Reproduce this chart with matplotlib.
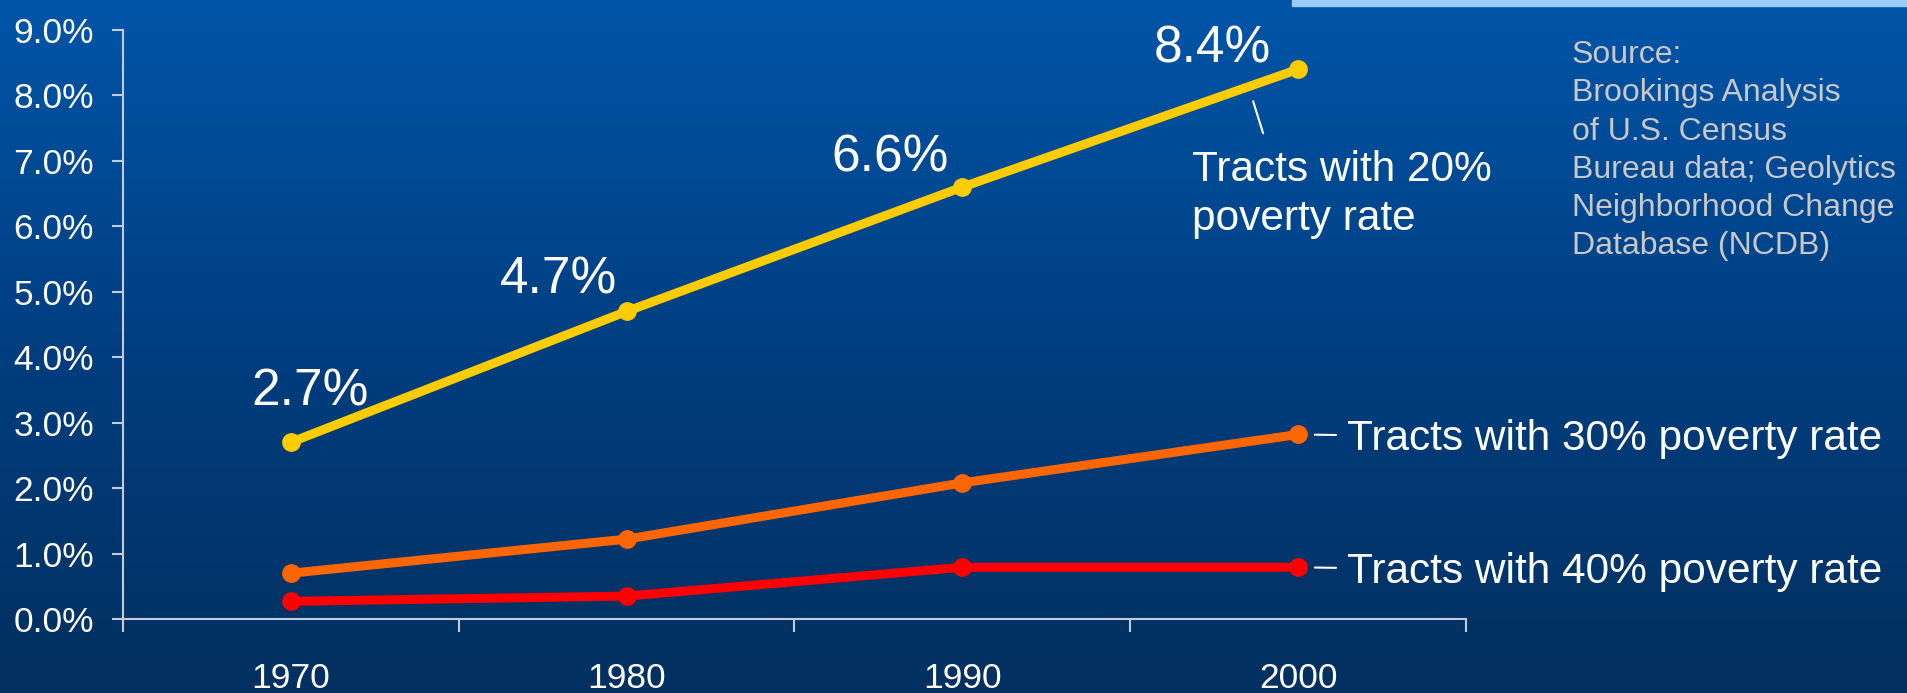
import numpy as np
import matplotlib.pyplot as plt
from matplotlib.colors import LinearSegmentedColormap
from matplotlib.transforms import offset_copy

plt.rcParams['font.family'] = ['Liberation Sans', 'DejaVu Sans']

# data
years = ['1970', '1980', '1990', '2000']
pov20 = [2.7, 4.7, 6.6, 8.4]
pov30 = [0.70, 1.22, 2.08, 2.82]
pov40 = [0.27, 0.35, 0.79, 0.79]
labels20 = ['2.7%', '4.7%', '6.6%', '8.4%']
yticks = [0, 1, 2, 3, 4, 5, 6, 7, 8, 9]

fig = plt.figure(figsize=(19.08, 6.93), dpi=100)

# gradient background
bg = fig.add_axes([0, 0, 1, 1], zorder=0)
cmap = LinearSegmentedColormap.from_list('bg', ['#0055A8', '#003E80', '#03305F'])
bg.imshow(np.linspace(0, 1, 256).reshape(-1, 1), aspect='auto', cmap=cmap,
          extent=[0, 1, 0, 1], origin='upper')
bg.add_patch(plt.Rectangle((1292 / 1908, 1 - 6 / 693), 1, 6 / 693, color='#99CCFF'))
bg.set_xlim(0, 1)
bg.set_ylim(0, 1)
bg.axis('off')

ax = fig.add_axes([123 / 1908, 1 - 619 / 693, (1466 - 123) / 1908, (619 - 30) / 693], zorder=1)
ax.patch.set_alpha(0)

x = np.arange(len(years))
ax.plot(x, pov20, color='#FFCC00', lw=6.5, marker='o', ms=12.5, solid_capstyle='round')
ax.plot(x, pov30, color='#FF6600', lw=6.5, marker='o', ms=12.5, solid_capstyle='round')
ax.plot(x, pov40, color='#FF0000', lw=6.5, marker='o', ms=12.5, solid_capstyle='round')

ax.set_xlim(-0.5, 3.5)
ax.set_ylim(0, 9)

spc = '#C0CCDC'
for s in ['top', 'right']:
    ax.spines[s].set_visible(False)
for s in ['left', 'bottom']:
    ax.spines[s].set_color(spc)
    ax.spines[s].set_linewidth(1.5)

ax.set_yticks(yticks)
ax.set_yticklabels(['%.1f%%' % v for v in yticks])
ax.tick_params(axis='y', colors=spc, labelcolor='white', labelsize=25.5, length=8, width=1.5, pad=13)
ax.set_xticks(x)
ax.set_xticklabels(years)
ax.set_xticks(np.arange(-0.5, 4, 1), minor=True)
ax.tick_params(axis='x', which='major', length=0, labelcolor='white', labelsize=25.5, pad=31)
ax.tick_params(axis='x', which='minor', length=9, width=1.5, colors=spc)

# value labels on the 20% line
offs = [(19, 50), (-68, 31), (-72, 29), (-86, 20)]
for i, (lab, (dx, dy)) in enumerate(zip(labels20, offs)):
    ax.annotate(lab, (x[i], pov20[i]), xytext=(dx, dy), textcoords='offset pixels',
                ha='center', va='center', color='white', fontsize=37)

# series labels
ax.annotate('Tracts with 20%\npoverty rate', (x[3], pov20[3]), xytext=(-106, -125),
            textcoords='offset pixels', ha='left', va='center', color='white',
            fontsize=30.5, linespacing=1.28, annotation_clip=False)
ax.annotate('', xy=(x[3], pov20[3]), xycoords=offset_copy(ax.transData, fig=fig, x=-35, y=-64, units='dots'),
            xytext=(x[3], pov20[3]), textcoords=offset_copy(ax.transData, fig=fig, x=-45, y=-32, units='dots'),
            arrowprops=dict(arrowstyle='-', color='white', lw=1.5, shrinkA=0, shrinkB=0))
for vals, txt in [(pov30, 'Tracts with 30% poverty rate'), (pov40, 'Tracts with 40% poverty rate')]:
    ax.annotate(txt, (x[3], vals[3]), xytext=(49, 0), textcoords='offset pixels',
                ha='left', va='center_baseline', color='white', fontsize=30.5,
                annotation_clip=False,
                arrowprops=dict(arrowstyle='-', color='white', lw=1.5, shrinkA=6, shrinkB=12))

fig.text(1572 / 1908, 1 - 40 / 693,
         'Source:\nBrookings Analysis\nof U.S. Census\nBureau data; Geolytics\nNeighborhood Change\nDatabase (NCDB)',
         ha='left', va='top', color='#C8C8C8', fontsize=23, linespacing=1.36)

fig.savefig('out.png', dpi=100)
